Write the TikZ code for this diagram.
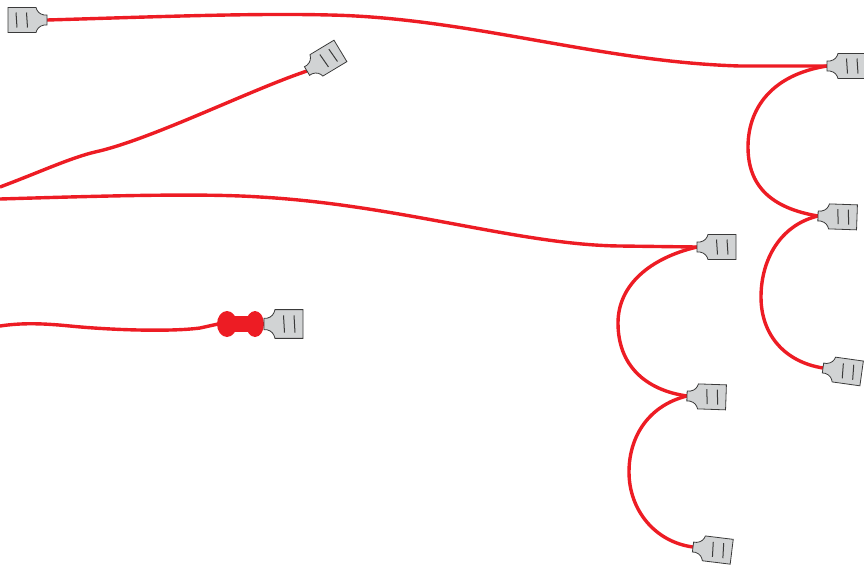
\documentclass[tikz,border=0pt]{standalone}
\definecolor{wirered}{HTML}{ED1C24}
\definecolor{lugfill}{HTML}{D1D3D4}
\definecolor{lugedge}{HTML}{3A3A3A}
\tikzset{
  wire/.style={draw=wirered, line width=3.4pt},
  lug/.pic={
    \draw[fill=lugfill, draw=lugedge, line width=0.8pt] (0,-5) -- (0,5) -- (3,5)
      .. controls (8,6) and (10,9) .. (11,12.5) -- (39,12.5) -- (39,-12.5) -- (11,-12.5)
      .. controls (10,-9) and (8,-6) .. (3,-5) -- cycle ;
    \draw[lugedge, line width=1pt] (19.5,-7.5) -- (20.5,7.5) (30,-7.5) -- (31,7.5) ;
  }
}
\begin{document}
\begin{tikzpicture}[x=1pt, y=-1pt]
                \useasboundingbox (0,0) rectangle (864,566) ;
                % wire ends
                \coordinate (endA) at (47,20) ;
                \coordinate (endB) at (307,71) ;
                \coordinate (endC) at (827,66) ;
                \coordinate (endD) at (818,216) ;
                \coordinate (endE) at (823,368) ;
                \coordinate (endF) at (697,247) ;
                \coordinate (endG) at (687,396) ;
                \coordinate (endH) at (693,547) ;
                \coordinate (endK) at (264,324) ;
                \coordinate (beadL) at (218,324) ;
                \coordinate (leftB) at (0,187) ;
                \coordinate (leftC) at (0,199) ;
                \coordinate (leftD) at (0,326) ;
                % wires
                \draw [wire] (endA) .. controls (150,17) and (250,13) .. (330,15)
                    .. controls (470,18) and (600,62) .. (740,66) -- (endC) ;
                \draw [wire] (leftB) .. controls (40,172) and (70,158) .. (95,152)
                    .. controls (150,140) and (250,90) .. (endB) ;
                \draw [wire] (leftC) .. controls (100,196) and (200,193) .. (260,197)
                    .. controls (400,205) and (520,245) .. (620,246) -- (endF) ;
                \draw [wire] (leftD) .. controls (20,323) and (40,323) .. (70,326)
                    .. controls (110,330) and (170,332) .. (200,328) -- (beadL) ;
                \draw [wire] (beadL) -- (endK) ;
                \draw [wire] (endC) .. controls (770,75) and (748,110) .. (748,147)
                    .. controls (748,185) and (770,208) .. (endD) ;
                \draw [wire] (endD) .. controls (780,225) and (761,260) .. (761,297)
                    .. controls (761,335) and (785,362) .. (endE) ;
                \draw [wire] (endF) .. controls (650,258) and (618,285) .. (618,323)
                    .. controls (618,365) and (645,390) .. (endG) ;
                \draw [wire] (endG) .. controls (650,405) and (629,435) .. (629,472)
                    .. controls (629,510) and (655,542) .. (endH) ;
                % heat shrink
                \fill [wirered] (227,324) ellipse [x radius=10, y radius=13] ;
                \fill [wirered] (255,324) ellipse [x radius=9, y radius=13] ;
                \fill [wirered] (227,316) rectangle (255,332) ;
                % terminals
                \pic [rotate=180] at (endA) {lug} ;
                \pic [rotate=31] at (endB) {lug} ;
                \pic at (endC) {lug} ;
                \pic [rotate=-2] at (endD) {lug} ;
                \pic [rotate=-8] at (endE) {lug} ;
                \pic at (endF) {lug} ;
                \pic [rotate=-2] at (endG) {lug} ;
                \pic [rotate=-7] at (endH) {lug} ;
                \pic [yscale=1.15] at (endK) {lug} ;
\end{tikzpicture}
\end{document}
